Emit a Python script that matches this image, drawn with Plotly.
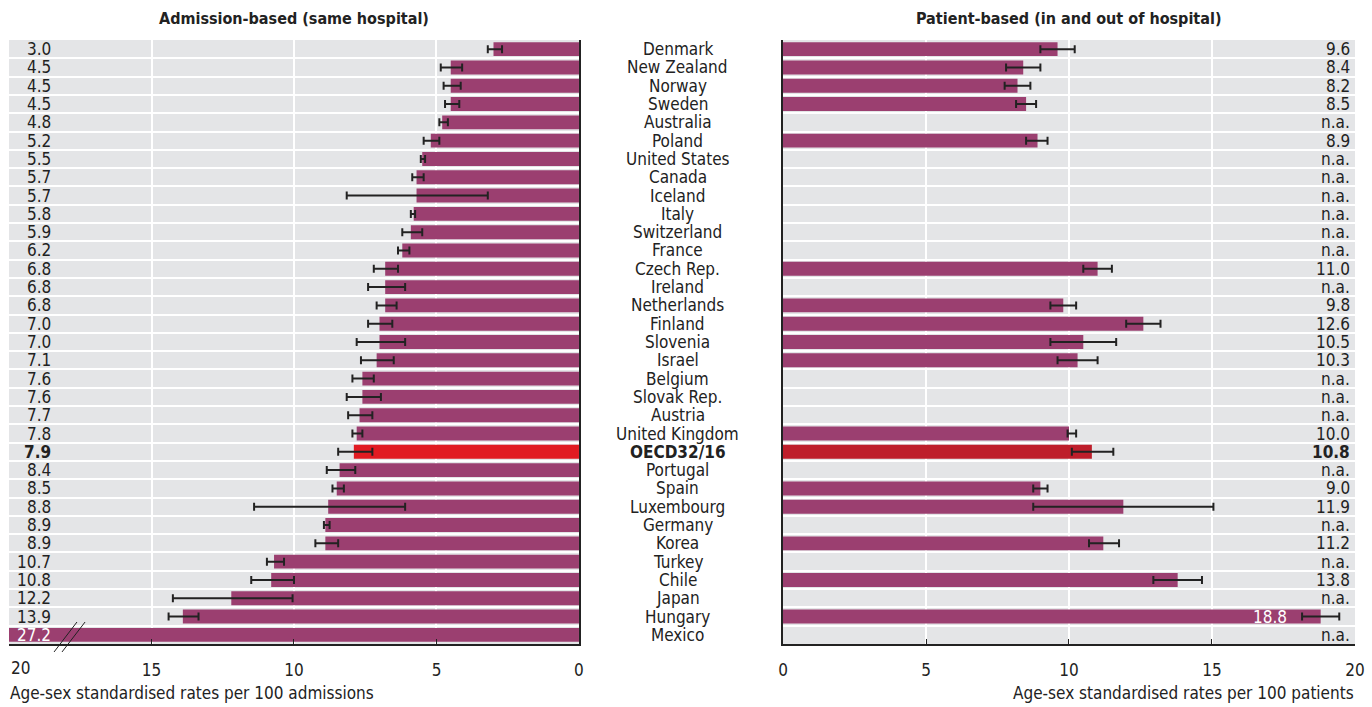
import plotly.graph_objects as go

countries = ["Denmark", "New Zealand", "Norway", "Sweden", "Australia", "Poland",
             "United States", "Canada", "Iceland", "Italy", "Switzerland", "France",
             "Czech Rep.", "Ireland", "Netherlands", "Finland", "Slovenia", "Israel",
             "Belgium", "Slovak Rep.", "Austria", "United Kingdom", "OECD32/16",
             "Portugal", "Spain", "Luxembourg", "Germany", "Korea", "Turkey", "Chile",
             "Japan", "Hungary", "Mexico"]

adm_values = [3.0, 4.5, 4.5, 4.5, 4.8, 5.2, 5.5, 5.7, 5.7, 5.8, 5.9, 6.2, 6.8, 6.8, 6.8,
              7.0, 7.0, 7.1, 7.6, 7.6, 7.7, 7.8, 7.9, 8.4, 8.5, 8.8, 8.9, 8.9, 10.7, 10.8,
              12.2, 13.9, 27.2]
adm_low = [2.7, 4.1, 4.15, 4.2, 4.6, 4.9, 5.4, 5.45, 3.2, 5.75, 5.5, 5.95, 6.35, 6.1, 6.4,
           6.55, 6.1, 6.5, 7.2, 6.95, 7.25, 7.6, 7.25, 7.85, 8.25, 6.1, 8.75, 8.45, 10.35,
           10.0, 10.05, 13.35, None]
adm_high = [3.2, 4.85, 4.75, 4.7, 4.9, 5.45, 5.55, 5.85, 8.15, 5.9, 6.2, 6.35, 7.2, 7.4, 7.1,
            7.4, 7.8, 7.65, 7.95, 8.15, 8.1, 7.95, 8.45, 8.85, 8.65, 11.4, 8.95, 9.25, 10.95,
            11.5, 14.25, 14.4, None]

pat_values = [9.6, 8.4, 8.2, 8.5, None, 8.9, None, None, None, None, None, None, 11.0,
              None, 9.8, 12.6, 10.5, 10.3, None, None, None, 10.0, 10.8, None, 9.0, 11.9,
              None, 11.2, None, 13.8, None, 18.8, None]
pat_low = [9.0, 7.8, 7.75, 8.15, None, 8.5, None, None, None, None, None, None, 10.5,
           None, 9.35, 12.0, 9.35, 9.6, None, None, None, 9.95, 10.1, None, 8.75, 8.75,
           None, 10.7, None, 12.95, None, 18.15, None]
pat_high = [10.2, 9.0, 8.65, 8.85, None, 9.25, None, None, None, None, None, None, 11.5,
            None, 10.25, 13.2, 11.65, 11.0, None, None, None, 10.25, 11.55, None, 9.25, 15.05,
            None, 11.75, None, 14.65, None, 19.45, None]

x_ticks = [0, 5, 10, 15, 20]

highlight = "OECD32/16"
PURPLE = "#9b3f70"
RED_L = "#e11b22"
RED_R = "#be1e2b"
GRAY = "#e4e5e7"
DARK = "#222222"
FONT = "Liberation Sans Narrow, Arial Narrow, DejaVu Sans Condensed, sans-serif"

pos = list(range(len(countries)))


def err(vals, lo, hi):
    plus, minus = [], []
    for v, l, h in zip(vals, lo, hi):
        if v is None or l is None:
            plus.append(None); minus.append(None)
        else:
            plus.append(h - v); minus.append(v - l)
    return plus, minus


fig = go.Figure()

ap, am = err(adm_values, adm_low, adm_high)
fig.add_trace(go.Bar(
    x=adm_values, y=pos, orientation="h", xaxis="x", yaxis="y", width=0.76,
    marker=dict(color=[RED_L if c == highlight else PURPLE for c in countries], line=dict(width=0)),
    error_x=dict(type="data", array=ap, arrayminus=am, color=DARK, thickness=2, width=4),
    showlegend=False, hoverinfo="skip"))

pp, pm = err(pat_values, pat_low, pat_high)
fig.add_trace(go.Bar(
    x=pat_values, y=pos, orientation="h", xaxis="x2", yaxis="y2", width=0.76,
    marker=dict(color=[RED_R if c == highlight else PURPLE for c in countries], line=dict(width=0)),
    error_x=dict(type="data", array=pp, arrayminus=pm, color=DARK, thickness=2, width=4),
    showlegend=False, hoverinfo="skip"))

ann = []
for i, c in enumerate(countries):
    bold = c == highlight
    ann.append(dict(x=0.494, xref="paper", y=i, yref="y", text=f"<b>{c}</b>" if bold else c,
                    showarrow=False, xanchor="center", yanchor="middle",
                    font=dict(size=17, color=DARK, family=FONT)))
    # left values
    v = adm_values[i]
    txt = f"{v:.1f}"
    ann.append(dict(x=18.45, xref="x", y=i, yref="y", text=f"<b>{txt}</b>" if bold else txt,
                    showarrow=False, xanchor="right", yanchor="middle",
                    font=dict(size=17, color="white" if v > 20 else DARK, family=FONT)))
    # right values
    pv = pat_values[i]
    if pv is None:
        ann.append(dict(x=19.9, xref="x2", y=i, yref="y2", text="n.a.",
                        showarrow=False, xanchor="right", yanchor="middle",
                        font=dict(size=17, color=DARK, family=FONT)))
    else:
        txt = f"{pv:.1f}"
        inside = pv > 18
        ann.append(dict(x=(pv - 1.1) if inside else 19.9, xref="x2", y=i, yref="y2",
                        text=f"<b>{txt}</b>" if bold else txt,
                        showarrow=False, xanchor="right", yanchor="middle",
                        font=dict(size=17, color="white" if inside else DARK, family=FONT)))

# left-axis edge tick label (kept inside the page, as in the original)
left_edge = max(x_ticks)
ann.append(dict(x=left_edge, xref="x", y=-0.04, yref="paper", xanchor="left", yanchor="middle",
                text=str(left_edge), showarrow=False,
                font=dict(size=17, color=DARK, family=FONT)))

ann += [
    dict(x=(0.00656 + 0.4220) / 2, xref="paper", y=1.036, yref="paper",
         xanchor="center", yanchor="middle",
         text="<b>Admission-based (same hospital)</b>", showarrow=False,
         font=dict(size=16, color=DARK, family=FONT)),
    dict(x=(0.5707 + 0.9876) / 2, xref="paper", y=1.036, yref="paper",
         xanchor="center", yanchor="middle",
         text="<b>Patient-based (in and out of hospital)</b>", showarrow=False,
         font=dict(size=16, color=DARK, family=FONT)),
    dict(x=0.0055, xref="paper", y=-0.081, yref="paper", xanchor="left", yanchor="middle",
         text="Age-sex standardised rates per 100 admissions", showarrow=False,
         font=dict(size=17, color=DARK, family=FONT)),
    dict(x=0.9885, xref="paper", y=-0.081, yref="paper", xanchor="right", yanchor="middle",
         text="Age-sex standardised rates per 100 patients", showarrow=False,
         font=dict(size=17, color=DARK, family=FONT)),
]

shapes = [
    dict(type="line", xref="paper", yref="paper", x0=0.0394, y0=-0.0132, x1=0.0561, y1=0.0364,
         line=dict(color=DARK, width=1)),
    dict(type="line", xref="paper", yref="paper", x0=0.0452, y0=-0.0132, x1=0.0620, y1=0.0364,
         line=dict(color=DARK, width=1)),
]

yax = dict(range=[len(countries) - 0.5, -0.5], tick0=0.5, dtick=1, showgrid=True,
           gridcolor="white", gridwidth=2, showticklabels=False, ticks="", zeroline=False,
           showline=True, linecolor=DARK, linewidth=1.5, automargin=False)
xax = dict(tickvals=x_ticks, showgrid=True, gridcolor="white", gridwidth=2, zeroline=False,
           showline=True, linecolor=DARK, linewidth=1.5, ticks="inside", ticklen=5,
           tickcolor=DARK, tickwidth=1, ticklabelstandoff=10, automargin=False,
           tickfont=dict(size=17, color=DARK, family=FONT))

fig.update_layout(
    width=1372, height=707, margin=dict(l=0, r=0, t=40, b=63, autoexpand=False),
    paper_bgcolor="white", plot_bgcolor=GRAY, barmode="overlay",
    xaxis=dict(domain=[0.00656, 0.4220], range=[20, 0], anchor="y",
               ticktext=["" if t == left_edge else str(t) for t in x_ticks], **xax),
    yaxis=dict(anchor="x", side="right", **yax),
    xaxis2=dict(domain=[0.5707, 0.9876], range=[0, 20], anchor="y2",
                ticktext=[str(t) for t in x_ticks], **xax),
    yaxis2=dict(anchor="x2", side="left", **yax),
    annotations=ann, shapes=shapes,
    font=dict(family=FONT, color=DARK),
)

fig.write_html("out.html")
